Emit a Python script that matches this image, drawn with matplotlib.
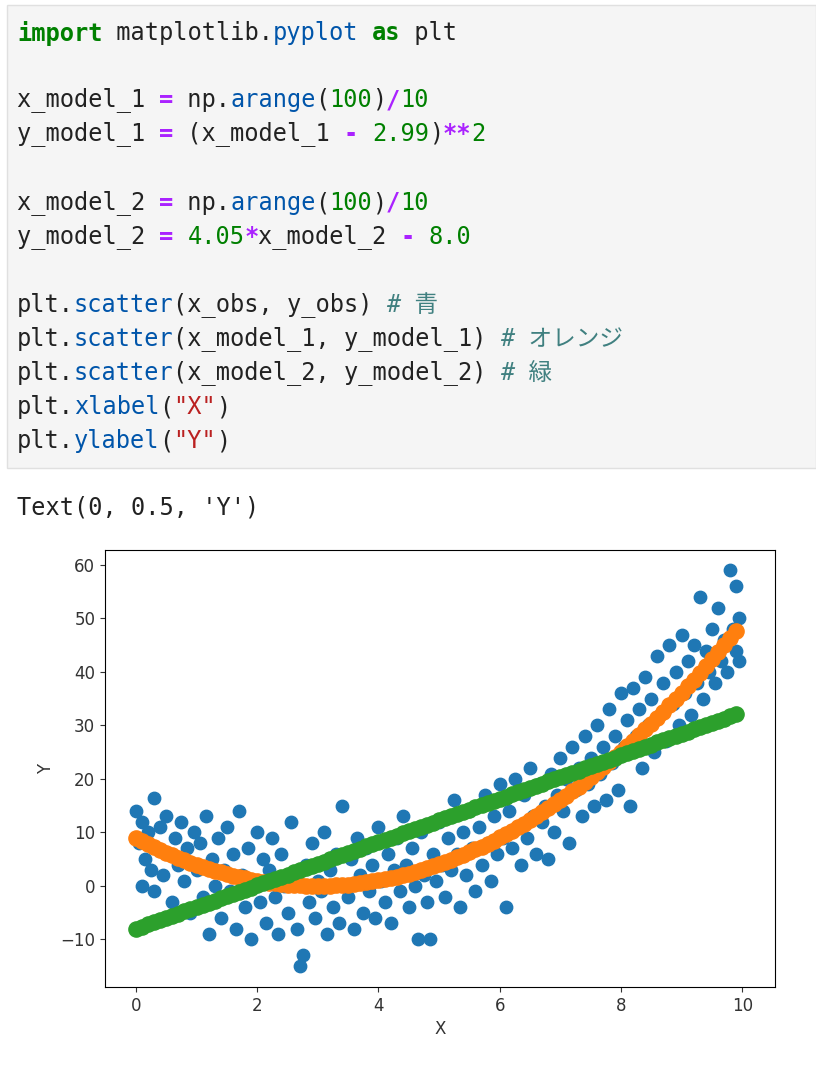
import numpy as np
import matplotlib
matplotlib.use("Agg")
import matplotlib.pyplot as plt
from matplotlib.patches import Rectangle

x_obs = [0.0, 0.05, 0.1, 0.1, 0.15, 0.2, 0.25, 0.3, 0.3, 0.35, 0.4, 0.45, 0.5, 0.55, 0.6, 0.65, 0.7, 0.75, 0.8, 0.85,
         0.9, 0.95, 1.0, 1.05, 1.1, 1.15, 1.2, 1.25, 1.3, 1.35, 1.4, 1.45, 1.5, 1.55, 1.6, 1.65, 1.7, 1.75, 1.8, 1.85,
         1.9, 1.95, 2.0, 2.05, 2.1, 2.15, 2.2, 2.25, 2.3, 2.35, 2.4, 2.45, 2.5, 2.55, 2.6, 2.65, 2.7, 2.75, 2.8, 2.85,
         2.9, 2.95, 3.0, 3.05, 3.1, 3.15, 3.2, 3.25, 3.3, 3.35, 3.4, 3.45, 3.5, 3.55, 3.6, 3.65, 3.7, 3.75, 3.8, 3.85,
         3.9, 3.95, 4.0, 4.05, 4.1, 4.15, 4.2, 4.25, 4.3, 4.35, 4.4, 4.45, 4.5, 4.55, 4.6, 4.65, 4.7, 4.75, 4.8, 4.85,
         4.9, 4.95, 5.0, 5.05, 5.1, 5.15, 5.2, 5.25, 5.3, 5.35, 5.4, 5.45, 5.5, 5.55, 5.6, 5.65, 5.7, 5.75, 5.8, 5.85,
         5.9, 5.95, 6.0, 6.05, 6.1, 6.15, 6.2, 6.25, 6.3, 6.35, 6.4, 6.45, 6.5, 6.55, 6.6, 6.65, 6.7, 6.75, 6.8, 6.85,
         6.9, 6.95, 7.0, 7.05, 7.1, 7.15, 7.2, 7.25, 7.3, 7.35, 7.4, 7.45, 7.5, 7.55, 7.6, 7.65, 7.7, 7.75, 7.8, 7.85,
         7.9, 7.95, 8.0, 8.05, 8.1, 8.15, 8.2, 8.25, 8.3, 8.35, 8.4, 8.45, 8.5, 8.55, 8.6, 8.65, 8.7, 8.75, 8.8, 8.85,
         8.9, 8.95, 9.0, 9.05, 9.1, 9.15, 9.2, 9.25, 9.3, 9.35, 9.4, 9.45, 9.5, 9.55, 9.6, 9.65, 9.7, 9.75, 9.8, 9.85,
         9.9, 9.9, 9.95, 9.95]
y_obs = [14, 8, 0, 12, 5, 10, 3, 16.5, -1, 7, 11, 2, 13, 6, -3, 9, 4, 12, 1, 7,
         -5, 10, 3, 8, -2, 13, -9, 5, 0, 9, -6, 3, 11, -1, 6, -8, 14, 2, -4, 7,
         -10, 1, 10, -3, 5, -7, 3, 9, -2, -9, 6, 0, -5, 12, 2, -8, -15, -13, 4, -3,
         8, -6, 1, -1, 10, -9, 3, -4, 6, -7, 15, 0, -2, 5, -8, 9, 2, -5, 7, -1,
         4, -6, 11, 1, -3, 6, -7, 3, 9, -1, 13, 4, -4, 7, 0, -10, 10, 2, -3, -10,
         6, 1, 12, 4, -2, 9, 3, 16, 6, -4, 10, 2, 14, 7, -1, 11, 4, 17, 8, 1,
         13, 6, 19, 9, -4, 14, 7, 20, 11, 4, 17, 9, 22, 13, 6, 19, 12, 15, 5, 21,
         10, 17, 24, 14, 20, 8, 26, 18, 22, 13, 28, 19, 24, 15, 30, 21, 26, 16, 33, 23,
         28, 18, 36, 26, 31, 15, 37, 28, 33, 22, 39, 30, 35, 25, 43, 32, 38, 27, 45, 34,
         40, 30, 47, 36, 42, 32, 45, 38, 54, 35, 44, 40, 48, 38, 52, 42, 46, 40, 59, 48,
         56, 44, 50, 42]

x_model_1 = np.arange(100) / 10
y_model_1 = [8.94, 8.35, 7.78, 7.24, 6.71, 6.20, 5.71, 5.24, 4.80, 4.37, 3.96, 3.57, 3.20, 2.86, 2.53, 2.22, 1.93,
             1.66, 1.42, 1.19, 0.98, 0.79, 0.62, 0.48, 0.35, 0.24, 0.15, 0.08, 0.04, 0.01, 0.00, 0.01, 0.04, 0.10,
             0.17, 0.26, 0.37, 0.50, 0.66, 0.83, 1.02, 1.23, 1.46, 1.72, 1.99, 2.28, 2.59, 2.92, 3.28, 3.65, 4.04,
             4.45, 4.88, 5.34, 5.81, 6.30, 6.81, 7.34, 7.90, 8.47, 9.06, 9.67, 10.30, 10.96, 11.63, 12.32, 13.03,
             13.76, 14.52, 15.29, 16.08, 16.89, 17.72, 18.58, 19.45, 20.34, 21.25, 22.18, 23.14, 24.11, 25.10,
             26.11, 27.14, 28.20, 29.27, 30.36, 31.47, 32.60, 33.76, 34.93, 36.12, 37.33, 38.56, 39.82, 41.09,
             42.38, 43.69, 45.02, 46.38, 47.75]
x_model_2 = np.arange(100) / 10
y_model_2 = [-8.00, -7.60, -7.19, -6.79, -6.38, -5.98, -5.57, -5.17, -4.76, -4.36, -3.95, -3.55, -3.14, -2.74,
             -2.33, -1.93, -1.52, -1.12, -0.71, -0.31, 0.10, 0.51, 0.91, 1.32, 1.72, 2.13, 2.53, 2.94, 3.34, 3.75,
             4.15, 4.56, 4.96, 5.37, 5.77, 6.18, 6.58, 6.99, 7.39, 7.80, 8.20, 8.61, 9.01, 9.42, 9.82, 10.23,
             10.63, 11.04, 11.44, 11.85, 12.25, 12.66, 13.06, 13.47, 13.87, 14.28, 14.68, 15.09, 15.49, 15.90,
             16.30, 16.71, 17.11, 17.52, 17.92, 18.33, 18.73, 19.14, 19.54, 19.95, 20.35, 20.76, 21.16, 21.57,
             21.97, 22.38, 22.78, 23.19, 23.59, 24.00, 24.40, 24.81, 25.21, 25.62, 26.02, 26.43, 26.83, 27.24,
             27.64, 28.05, 28.45, 28.86, 29.26, 29.67, 30.07, 30.48, 30.88, 31.29, 31.69, 32.10]

W, H = 816, 1066
fig = plt.figure(figsize=(W / 100, H / 100), dpi=100)

# code cell background
fig.patches.append(Rectangle((7 / W, 1 - 468 / H), (W - 7) / W, 463 / H, transform=fig.transFigure,
                             facecolor="#f5f5f5", edgecolor="#e0e0e0", lw=1))

K, P, N, F, S, C, T = "#008000", "#aa22ff", "#008000", "#0055aa", "#ba2121", "#408080", "#222222"
code = [
    (33, [("import", K, "bold"), (" matplotlib.", T, None), ("pyplot", F, None), (" ", T, None),
          ("as", K, "bold"), (" plt", T, None)]),
    (100, [("x_model_1 ", T, None), ("=", P, "bold"), (" np.", T, None), ("arange", F, None), ("(", T, None),
           ("100", N, None), (")", T, None), ("/", P, "bold"), ("10", N, None)]),
    (134, [("y_model_1 ", T, None), ("=", P, "bold"), (" (x_model_1 ", T, None), ("-", P, "bold"), (" ", T, None),
           ("2.99", N, None), (")", T, None), ("**", P, "bold"), ("2", N, None)]),
    (203, [("x_model_2 ", T, None), ("=", P, "bold"), (" np.", T, None), ("arange", F, None), ("(", T, None),
           ("100", N, None), (")", T, None), ("/", P, "bold"), ("10", N, None)]),
    (237, [("y_model_2 ", T, None), ("=", P, "bold"), (" ", T, None), ("4.05", N, None), ("*", P, "bold"),
           ("x_model_2 ", T, None), ("-", P, "bold"), (" ", T, None), ("8.0", N, None)]),
    (305, [("plt.", T, None), ("scatter", F, None), ("(x_obs, y_obs) ", T, None), ("# 青", C, "italic")]),
    (339, [("plt.", T, None), ("scatter", F, None), ("(x_model_1, y_model_1) ", T, None), ("# オレンジ", C, "italic")]),
    (373, [("plt.", T, None), ("scatter", F, None), ("(x_model_2, y_model_2) ", T, None), ("# 緑", C, "italic")]),
    (407, [("plt.", T, None), ("xlabel", F, None), ("(", T, None), ('"X"', S, None), (")", T, None)]),
    (441, [("plt.", T, None), ("ylabel", F, None), ("(", T, None), ('"Y"', S, None), (")", T, None)]),
]
cw = 14.2
fam = ["DejaVu Sans Mono", "Noto Sans CJK JP"]
for py, segs in code:
    col = 0
    for txt, color, style in segs:
        fig.text((17 + col * cw) / W, 1 - py / H, txt, color=color, fontsize=17, family=fam, va="center",
                 ha="left", fontweight="bold" if style == "bold" else "normal",
                 fontstyle="italic" if style == "italic" else "normal")
        col += len(txt)

fig.text(17 / W, 1 - 507 / H, "Text(0, 0.5, 'Y')", color=T, fontsize=17, family=fam, va="center", ha="left")

ax = fig.add_axes([105 / W, 1 - 987 / H, 670 / W, 437 / H])
ax.scatter(x_obs, y_obs, s=80, color="#1f77b4")
ax.scatter(x_model_1, y_model_1, s=120, color="#ff7f0e")
ax.scatter(x_model_2, y_model_2, s=120, color="#2ca02c")
ax.set_xlim(-0.51, 10.54)
ax.set_ylim(-18.9, 62.8)
ax.set_xticks([0, 2, 4, 6, 8, 10])
ax.set_yticks([-10, 0, 10, 20, 30, 40, 50, 60])
ax.tick_params(labelsize=12, colors="#333333")
ax.set_xlabel("X", fontsize=12, color="#333333")
ax.set_ylabel("Y", fontsize=12, color="#333333")

fig.savefig("out.png", dpi=100)
